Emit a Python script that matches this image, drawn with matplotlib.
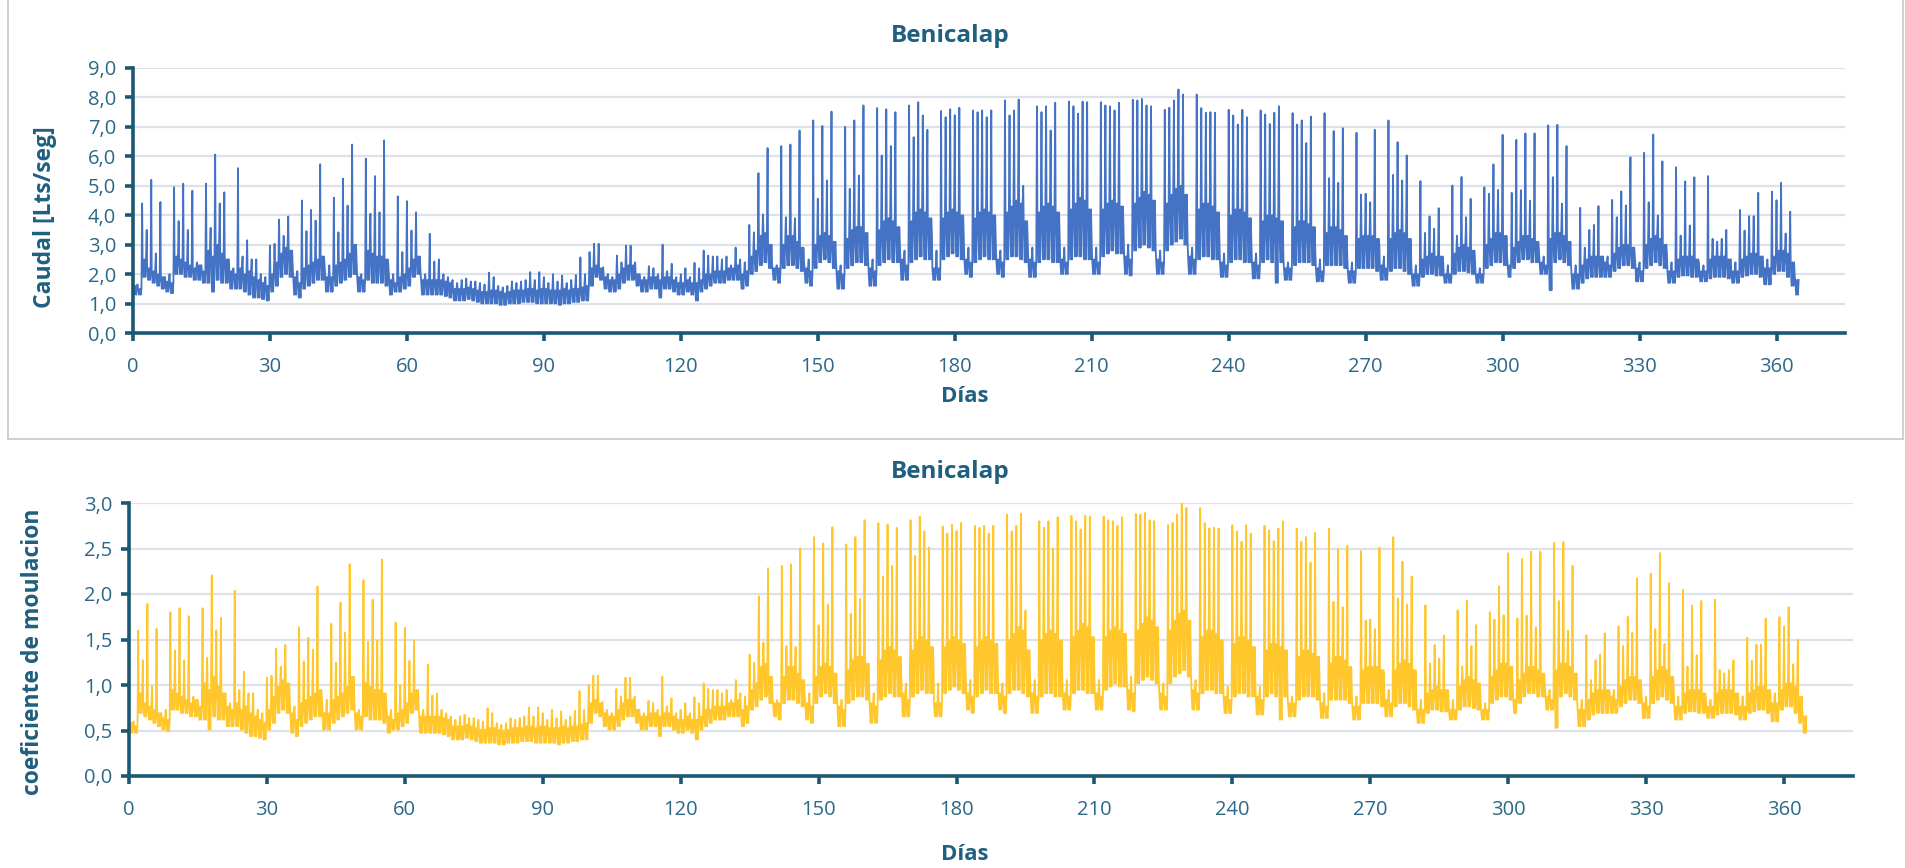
import numpy as np
import matplotlib
matplotlib.use("Agg")
import matplotlib.pyplot as plt
from matplotlib.ticker import FuncFormatter, MultipleLocator
from matplotlib.lines import Line2D

# Caudal diario en la red de Benicalap [l/s], un valor por día (0..364).
# Cada fila es una semana; las dos primeras columnas son sábado y domingo.
PICO = [
    1.7, 1.65, 4.4, 3.5, 5.2, 2.7, 4.45,
    1.9, 2.0, 4.95, 3.8, 5.07, 3.5, 4.83,
    2.4, 2.3, 5.07, 3.57, 6.06, 4.4, 4.78,
    2.5, 2.2, 5.6, 2.6, 3.15, 2.5, 2.5,
    2.0, 1.9, 2.97, 3.03, 3.85, 3.3, 3.96,
    2.2, 2.1, 4.5, 3.46, 4.18, 3.82, 5.73,
    2.2, 2.3, 4.6, 3.42, 5.24, 4.33, 6.4,
    2.3, 2.0, 5.92, 4.05, 5.33, 4.1, 6.54,
    2.1, 2.0, 4.64, 2.75, 4.48, 3.48, 4.1,
    2.0, 2.0, 3.37, 2.43, 2.5, 2.0, 1.9,
    1.8, 1.7, 1.8, 1.85, 1.75, 1.75, 1.7,
    1.65, 2.05, 1.9, 1.6, 1.55, 1.6, 1.75,
    1.7, 1.75, 1.8, 2.07, 1.8, 2.07, 1.9,
    1.7, 2.0, 1.75, 1.95, 1.7, 1.8, 1.97,
    2.57, 2.0, 2.75, 3.03, 3.03, 2.23, 2.0,
    1.9, 2.63, 2.4, 2.97, 2.97, 2.4, 2.0,
    1.9, 2.27, 2.2, 2.0, 3.0, 2.1, 2.35,
    1.9, 2.0, 2.2, 1.9, 2.38, 2.2, 2.8,
    2.63, 2.6, 2.6, 2.5, 2.6, 2.3, 2.9,
    2.5, 2.4, 3.67, 3.42, 5.43, 4.03, 6.28,
    2.3, 2.3, 6.35, 3.93, 6.4, 3.9, 6.88,
    2.4, 2.5, 7.22, 4.56, 7.03, 5.18, 7.52,
    2.4, 2.3, 7.0, 4.9, 7.22, 5.35, 7.73,
    2.6, 2.5, 7.64, 6.03, 7.6, 6.35, 7.5,
    2.9, 2.8, 7.73, 6.65, 7.84, 7.39, 6.9,
    3.37, 2.8, 7.54, 7.33, 7.6, 7.4, 7.65,
    3.1, 2.9, 7.56, 7.5, 7.56, 7.33, 7.56,
    3.0, 2.8, 7.9, 7.39, 7.56, 7.93, 5.0,
    3.0, 2.9, 7.7, 7.5, 7.7, 6.88, 7.82,
    3.1, 2.9, 7.86, 7.7, 7.45, 7.86, 7.84,
    3.0, 2.9, 7.84, 7.73, 7.7, 7.56, 7.82,
    3.3, 3.0, 7.92, 7.9, 7.95, 7.73, 7.7,
    2.9, 2.8, 7.58, 7.65, 7.9, 8.27, 8.1,
    3.1, 2.9, 8.1, 7.64, 7.48, 7.5, 7.48,
    2.9, 2.7, 7.58, 7.39, 7.08, 7.58, 7.33,
    2.9, 2.7, 7.56, 7.42, 7.1, 7.48, 7.7,
    2.5, 2.4, 7.47, 7.08, 7.22, 6.45, 7.35,
    2.65, 2.5, 7.47, 5.26, 6.86, 5.1, 6.96,
    2.5, 2.4, 6.8, 4.7, 4.73, 4.44, 6.9,
    3.0, 2.6, 7.22, 5.37, 6.48, 5.18, 6.03,
    2.4, 2.3, 5.16, 3.4, 3.96, 3.54, 4.24,
    2.4, 2.3, 5.01, 3.31, 5.3, 3.93, 4.56,
    2.3, 2.2, 4.95, 4.73, 5.73, 4.86, 6.73,
    2.6, 4.76, 6.56, 4.85, 6.78, 4.49, 6.78,
    2.7, 2.6, 7.05, 5.29, 7.07, 4.39, 6.35,
    2.3, 2.3, 4.25, 2.9, 3.5, 3.67, 4.31,
    2.6, 2.6, 4.52, 3.93, 4.81, 4.33, 5.97,
    2.5, 2.4, 6.12, 4.44, 6.74, 3.99, 5.83,
    2.7, 2.4, 5.63, 3.31, 5.15, 3.65, 5.29,
    2.4, 2.3, 5.33, 3.2, 3.1, 3.2, 3.5,
    2.5, 2.4, 4.18, 3.48, 3.97, 3.97, 4.76,
    2.6, 2.5, 4.8, 4.51, 5.1, 3.38, 4.12,
    1.9,
]

BANDA = [
    1.6, 1.5, 2.5, 2.2, 2.1, 2.0, 1.9,
    1.75, 1.7, 2.6, 2.5, 2.4, 2.3, 2.2,
    2.3, 2.1, 2.8, 2.6, 3.0, 2.7, 2.5,
    2.1, 2.0, 2.2, 2.0, 2.1, 1.9, 1.8,
    1.7, 1.6, 2.0, 2.4, 2.7, 2.9, 2.8,
    1.9, 1.7, 2.2, 2.3, 2.4, 2.5, 2.6,
    1.9, 1.9, 2.3, 2.4, 2.5, 2.7, 3.0,
    1.9, 1.8, 2.8, 2.7, 2.6, 2.6, 2.5,
    1.8, 1.7, 1.9, 2.0, 2.2, 2.5, 2.6,
    1.8, 1.8, 1.8, 1.8, 1.8, 1.75, 1.7,
    1.5, 1.5, 1.5, 1.55, 1.5, 1.45, 1.4,
    1.4, 1.45, 1.45, 1.4, 1.35, 1.4, 1.45,
    1.45, 1.45, 1.5, 1.5, 1.45, 1.5, 1.5,
    1.45, 1.45, 1.45, 1.5, 1.45, 1.5, 1.5,
    1.55, 1.6, 2.2, 2.3, 2.2, 1.9, 1.8,
    1.8, 2.0, 2.2, 2.3, 2.3, 2.0, 1.8,
    1.8, 1.9, 1.9, 1.8, 1.9, 1.9, 1.8,
    1.7, 1.7, 1.8, 1.7, 1.7, 1.8, 2.0,
    2.0, 2.1, 2.1, 2.1, 2.2, 2.2, 2.3,
    2.0, 2.1, 2.6, 2.8, 3.3, 3.4, 3.0,
    2.2, 2.2, 3.0, 3.3, 3.3, 3.1, 2.9,
    2.2, 2.1, 3.0, 3.3, 3.4, 3.3, 3.1,
    2.1, 2.0, 3.2, 3.5, 3.6, 3.6, 3.4,
    2.2, 2.1, 3.5, 3.8, 3.9, 3.8, 3.6,
    2.5, 2.3, 3.8, 4.1, 4.2, 4.1, 3.9,
    2.2, 2.2, 3.9, 4.1, 4.2, 4.1, 4.0,
    2.5, 2.4, 3.9, 4.1, 4.2, 4.1, 4.0,
    2.5, 2.4, 4.1, 4.3, 4.5, 4.4, 3.8,
    2.5, 2.4, 4.1, 4.3, 4.4, 4.3, 4.1,
    2.5, 2.4, 4.2, 4.4, 4.6, 4.5, 4.2,
    2.5, 2.4, 4.2, 4.4, 4.5, 4.4, 4.3,
    2.6, 2.5, 4.4, 4.6, 4.8, 4.7, 4.5,
    2.5, 2.4, 4.4, 4.7, 4.9, 5.0, 4.7,
    2.6, 2.5, 4.2, 4.4, 4.4, 4.3, 4.1,
    2.4, 2.3, 4.0, 4.2, 4.2, 4.1, 3.9,
    2.4, 2.3, 3.8, 4.0, 4.0, 3.9, 3.8,
    2.2, 2.2, 3.6, 3.8, 3.8, 3.7, 3.6,
    2.2, 2.1, 3.4, 3.6, 3.6, 3.5, 3.3,
    2.1, 2.1, 3.2, 3.3, 3.3, 3.3, 3.2,
    2.3, 2.2, 3.2, 3.4, 3.5, 3.4, 3.2,
    2.0, 2.0, 2.5, 2.6, 2.7, 2.6, 2.6,
    2.0, 2.0, 2.7, 2.9, 3.0, 2.9, 2.8,
    2.0, 2.0, 3.0, 3.2, 3.4, 3.4, 3.3,
    2.3, 2.9, 3.1, 3.3, 3.3, 3.2, 3.1,
    2.4, 2.3, 3.2, 3.4, 3.4, 3.3, 3.1,
    2.0, 2.0, 2.3, 2.5, 2.6, 2.6, 2.6,
    2.4, 2.3, 2.7, 2.9, 3.0, 3.0, 2.9,
    2.2, 2.1, 3.0, 3.2, 3.3, 3.2, 3.0,
    2.1, 2.1, 2.5, 2.6, 2.6, 2.6, 2.5,
    2.1, 2.1, 2.5, 2.6, 2.6, 2.6, 2.5,
    2.1, 2.1, 2.5, 2.6, 2.7, 2.7, 2.6,
    2.2, 2.2, 2.6, 2.8, 2.8, 2.7, 2.4,
    1.8,
]

MINIMO = [
    1.3, 1.3, 1.9, 1.8, 1.7, 1.6, 1.5,
    1.4, 1.35, 2.0, 2.0, 1.9, 1.9, 1.8,
    1.8, 1.7, 1.7, 1.4, 1.8, 1.7, 1.7,
    1.5, 1.5, 1.5, 1.4, 1.3, 1.2, 1.2,
    1.15, 1.1, 1.4, 1.6, 1.9, 2.0, 1.9,
    1.3, 1.2, 1.5, 1.6, 1.7, 1.8, 1.8,
    1.4, 1.4, 1.6, 1.7, 1.8, 1.9, 2.0,
    1.4, 1.4, 1.8, 1.7, 1.7, 1.7, 1.6,
    1.3, 1.4, 1.4, 1.5, 1.6, 1.9, 2.0,
    1.3, 1.3, 1.3, 1.3, 1.3, 1.25, 1.2,
    1.1, 1.1, 1.1, 1.15, 1.1, 1.05, 1.0,
    1.0, 1.0, 1.0, 0.95, 0.95, 1.0, 1.0,
    1.0, 1.05, 1.05, 1.05, 1.0, 1.0, 1.0,
    1.0, 1.0, 0.95, 1.0, 1.0, 1.05, 1.05,
    1.1, 1.1, 1.6, 1.9, 1.8, 1.5, 1.4,
    1.4, 1.5, 1.7, 1.8, 1.8, 1.6, 1.4,
    1.4, 1.5, 1.5, 1.2, 1.5, 1.5, 1.4,
    1.3, 1.3, 1.4, 1.3, 1.1, 1.4, 1.5,
    1.6, 1.7, 1.7, 1.7, 1.8, 1.8, 1.8,
    1.5, 1.6, 2.0, 2.1, 2.3, 2.4, 2.2,
    1.8, 1.7, 2.2, 2.3, 2.3, 2.2, 2.1,
    1.7, 1.6, 2.2, 2.4, 2.5, 2.4, 2.2,
    1.5, 1.5, 2.2, 2.3, 2.4, 2.4, 2.3,
    1.6, 1.6, 2.3, 2.4, 2.5, 2.4, 2.4,
    1.8, 1.8, 2.4, 2.5, 2.6, 2.5, 2.5,
    1.8, 1.8, 2.5, 2.6, 2.7, 2.6, 2.5,
    2.0, 1.9, 2.4, 2.5, 2.6, 2.5, 2.5,
    2.0, 1.9, 2.5, 2.6, 2.6, 2.5, 2.4,
    1.9, 1.9, 2.4, 2.5, 2.5, 2.4, 2.4,
    2.0, 2.0, 2.5, 2.6, 2.6, 2.5, 2.5,
    2.0, 2.0, 2.6, 2.7, 2.8, 2.7, 2.7,
    2.0, 1.95, 2.8, 2.9, 3.0, 2.9, 2.8,
    2.0, 2.0, 2.8, 3.0, 3.1, 3.2, 3.0,
    2.0, 2.0, 2.5, 2.6, 2.6, 2.5, 2.5,
    1.9, 1.9, 2.4, 2.5, 2.5, 2.4, 2.4,
    1.85, 1.85, 2.4, 2.5, 2.4, 1.7, 2.4,
    1.8, 1.8, 2.3, 2.4, 2.4, 2.4, 2.3,
    1.75, 1.75, 2.3, 2.3, 2.3, 2.3, 2.2,
    1.7, 1.7, 2.2, 2.2, 2.2, 2.2, 2.1,
    1.8, 1.8, 2.1, 2.2, 2.2, 2.1, 2.0,
    1.6, 1.6, 1.9, 2.0, 2.0, 1.95, 1.95,
    1.7, 1.7, 2.0, 2.1, 2.1, 2.05, 2.0,
    1.7, 1.7, 2.2, 2.3, 2.4, 2.4, 2.3,
    1.9, 2.2, 2.4, 2.5, 2.5, 2.4, 2.4,
    2.0, 2.0, 1.45, 2.4, 2.5, 2.4, 2.3,
    1.5, 1.5, 1.7, 1.85, 1.9, 1.9, 1.9,
    1.9, 1.9, 2.1, 2.2, 2.3, 2.3, 2.2,
    1.75, 1.75, 2.2, 2.3, 2.4, 2.3, 2.2,
    1.7, 1.7, 1.9, 1.95, 1.95, 1.9, 1.9,
    1.75, 1.75, 1.85, 1.9, 1.9, 1.9, 1.85,
    1.7, 1.7, 1.9, 1.95, 2.0, 2.0, 1.9,
    1.65, 1.65, 2.0, 2.1, 2.1, 1.9, 1.6,
    1.3,
]

# Caudal medio anual usado para el coeficiente de modulación [l/s]
Q_MEDIO = 2.75

X_TICKS = list(range(0, 361, 30))
TITULO = "Benicalap"

# Secuencia horaria de cada día: punta, nivel alto y nivel mínimo alternados
PASOS_DIA = np.array([0.0, 0.1, 0.3, 0.5, 0.7, 0.85])

dias = np.arange(len(PICO))
niveles = np.column_stack([PICO, BANDA, MINIMO, BANDA, MINIMO, BANDA])
t = (dias[:, None] + PASOS_DIA[None, :]).ravel()
caudal = niveles.ravel()
coef = caudal / Q_MEDIO

plt.rcParams['font.family'] = ['Open Sans', 'DejaVu Sans']

C_TEXTO = '#1f5f7f'
C_TICKS = '#2b6886'
C_EJE = '#1b5874'
C_GRID = '#dde2ea'
C_AZUL = '#4472c4'
C_AMARILLO = '#ffc72c'

W, H = 1906, 868
fig = plt.figure(figsize=(W / 100, H / 100), dpi=100)
fig.patch.set_facecolor('white')

coma = FuncFormatter(lambda v, p: f"{v:.1f}".replace('.', ','))


def fx(px):
    return px / W


def fy(py):
    return 1 - py / H


def estilo(ax, ymax, ystep):
    ax.set_xlim(0, 375)
    ax.set_ylim(0, ymax)
    ax.set_xticks(X_TICKS)
    ax.yaxis.set_major_locator(MultipleLocator(ystep))
    ax.yaxis.set_major_formatter(coma)
    for s in ('top', 'right'):
        ax.spines[s].set_visible(False)
    for s in ('left', 'bottom'):
        ax.spines[s].set_color(C_EJE)
        ax.spines[s].set_linewidth(2.6)
    ax.tick_params(axis='both', colors=C_EJE, width=2.6, length=6,
                   labelsize=14.5, labelcolor=C_TICKS)
    ax.tick_params(axis='x', pad=11)
    ax.tick_params(axis='y', pad=6)
    ax.grid(axis='y', color=C_GRID, linewidth=1.6)
    ax.set_axisbelow(True)


def rotulo(x, y, texto, size, rot=0):
    fig.text(fx(x), fy(y), texto, ha='center', va='center', rotation=rot,
             fontsize=size, fontweight='bold', color=C_TEXTO)


# Panel superior: caudal
ax1 = fig.add_axes([fx(133), fy(333), (1845 - 133) / W, (333 - 68) / H])
ax1.plot(t, caudal, color=C_AZUL, linewidth=1.3)
estilo(ax1, 9, 1)
rotulo(950, 36, TITULO, 17.5)
rotulo(45, 217, "Caudal [Lts/seg]", 16.5, rot=90)
rotulo(965, 396, "Días", 16)

# Panel inferior: coeficiente de modulación
ax2 = fig.add_axes([fx(129), fy(776), (1853 - 129) / W, (776 - 503) / H])
ax2.plot(t, coef, color=C_AMARILLO, linewidth=1.3)
estilo(ax2, 3, 0.5)
rotulo(950, 472, TITULO, 17.5)
rotulo(33, 652, "coeficiente de moulacion", 16.5, rot=90)
rotulo(965, 855, "Días", 16)

# Marco gris alrededor del gráfico superior
for xs, ys in (([8, 8], [0, 439]), ([8, 1903], [439, 439]),
               ([1903, 1903], [0, 439])):
    fig.add_artist(Line2D([fx(x) for x in xs], [fy(y) for y in ys],
                          color='#c8c8c8', linewidth=1.2))

fig.savefig("out.png", dpi=100, facecolor='white')
